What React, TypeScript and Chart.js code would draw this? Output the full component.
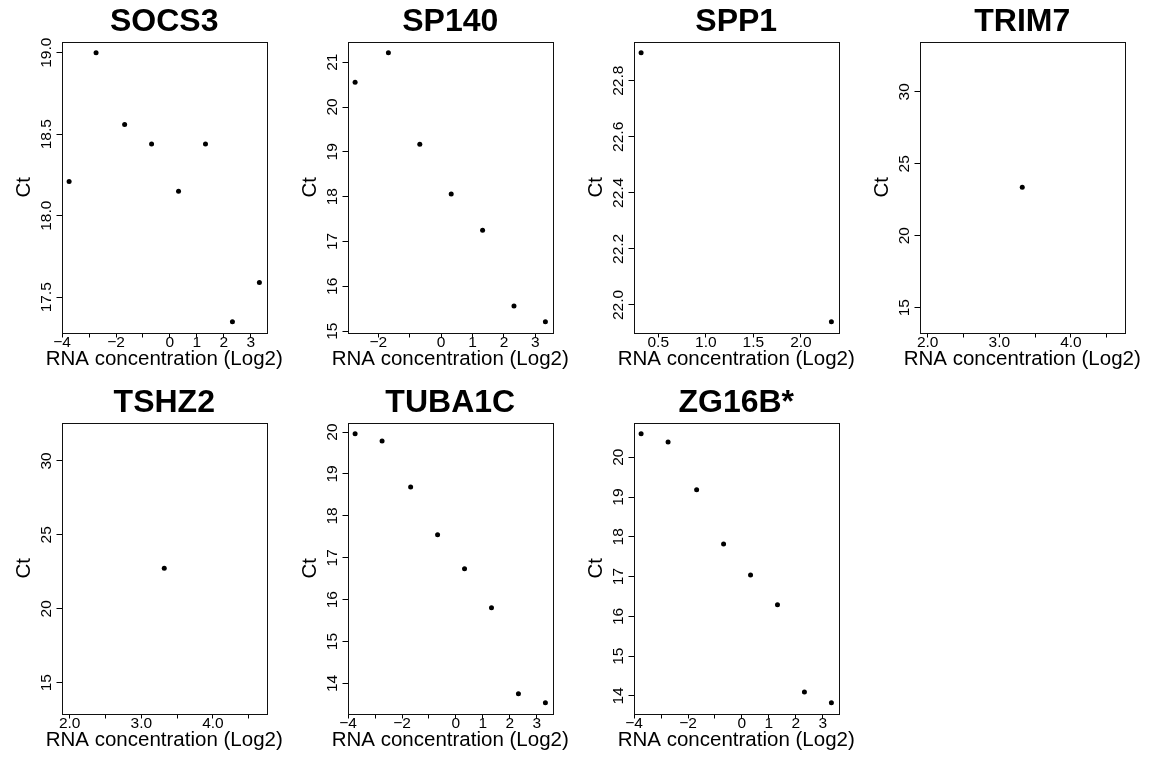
import React, { useEffect, useRef } from 'react';
import { Chart, registerables } from 'chart.js';

Chart.register(...registerables);

const FONT = '"Liberation Sans", Arial, Helvetica, sans-serif';

// log2 RNA concentration of each dilution step
const dilutionLog2 = [-3.74, -2.74, -1.68, -0.68, 0.32, 1.32, 2.32, 3.32];
const sp140Log2 = [-2.74, -1.68, -0.68, 0.32, 1.32, 2.32, 3.32];
const spp1Log2 = [0.32, 2.32];
const trim7Log2 = [3.32];
const tshz2Log2 = [3.32];

// Ct values per gene
const socs3Ct = [18.21, 19.0, 18.56, 18.44, 18.15, 18.44, 17.35, 17.59];
const sp140Ct = [20.55, 21.21, 19.17, 18.06, 17.25, 15.56, 15.21];
const spp1Ct = [22.9, 21.94];
const trim7Ct = [23.37];
const tshz2Ct = [22.74];
const tuba1cCt = [19.96, 19.785, 18.69, 17.55, 16.74, 15.81, 13.755, 13.54];
const zg16bCt = [20.59, 20.38, 19.18, 17.82, 17.04, 16.29, 14.1, 13.83];

// axis ticks and their labels (blank = tick without label)
const wideLog2Ticks = [-4, -3, -2, -1, 0, 1, 2, 3];
const wideLog2Labels = ['\u22124', '', '\u22122', '', '0', '1', '2', '3'];
const sp140Log2Ticks = [-2, -1, 0, 1, 2, 3];
const sp140Log2Labels = ['\u22122', '', '0', '1', '2', '3'];
const spp1Log2Ticks = [0.5, 1.0, 1.5, 2.0];
const spp1Log2Labels = ['0.5', '1.0', '1.5', '2.0'];
const singleLog2Ticks = [2.0, 2.5, 3.0, 3.5, 4.0, 4.5];
const singleLog2Labels = ['2.0', '', '3.0', '', '4.0', ''];

const socs3CtTicks = [17.5, 18.0, 18.5, 19.0];
const socs3CtLabels = ['17.5', '18.0', '18.5', '19.0'];
const sp140CtTicks = [15, 16, 17, 18, 19, 20, 21];
const sp140CtLabels = ['15', '16', '17', '18', '19', '20', '21'];
const spp1CtTicks = [22.0, 22.2, 22.4, 22.6, 22.8];
const spp1CtLabels = ['22.0', '22.2', '22.4', '22.6', '22.8'];
const singleCtTicks = [15, 20, 25, 30];
const singleCtLabels = ['15', '20', '25', '30'];
const lowCtTicks = [14, 15, 16, 17, 18, 19, 20];
const lowCtLabels = ['14', '15', '16', '17', '18', '19', '20'];

const geneNames = ['SOCS3', 'SP140', 'SPP1', 'TRIM7', 'TSHZ2', 'TUBA1C', 'ZG16B*'];

interface PanelSpec {
  name: string;
  x: number[];
  y: number[];
  xTicks: number[];
  xLabels: string[];
  yTicks: number[];
  yLabels: string[];
}

const panels: PanelSpec[] = [
  { name: geneNames[0], x: dilutionLog2, y: socs3Ct, xTicks: wideLog2Ticks, xLabels: wideLog2Labels, yTicks: socs3CtTicks, yLabels: socs3CtLabels },
  { name: geneNames[1], x: sp140Log2, y: sp140Ct, xTicks: sp140Log2Ticks, xLabels: sp140Log2Labels, yTicks: sp140CtTicks, yLabels: sp140CtLabels },
  { name: geneNames[2], x: spp1Log2, y: spp1Ct, xTicks: spp1Log2Ticks, xLabels: spp1Log2Labels, yTicks: spp1CtTicks, yLabels: spp1CtLabels },
  { name: geneNames[3], x: trim7Log2, y: trim7Ct, xTicks: singleLog2Ticks, xLabels: singleLog2Labels, yTicks: singleCtTicks, yLabels: singleCtLabels },
  { name: geneNames[4], x: tshz2Log2, y: tshz2Ct, xTicks: singleLog2Ticks, xLabels: singleLog2Labels, yTicks: singleCtTicks, yLabels: singleCtLabels },
  { name: geneNames[5], x: dilutionLog2, y: tuba1cCt, xTicks: wideLog2Ticks, xLabels: wideLog2Labels, yTicks: lowCtTicks, yLabels: lowCtLabels },
  { name: geneNames[6], x: dilutionLog2, y: zg16bCt, xTicks: wideLog2Ticks, xLabels: wideLog2Labels, yTicks: lowCtTicks, yLabels: lowCtLabels },
];

// R-style axis limits: data range widened by 4% each side
function axisRange(values: number[]): [number, number] {
  let lo = Math.min(...values);
  let hi = Math.max(...values);
  if (lo === hi) {
    const d = Math.abs(lo) * 0.4 || 1;
    lo -= d;
    hi += d;
  }
  const pad = (hi - lo) * 0.04;
  return [lo - pad, hi + pad];
}

const CANVAS_W = 287;
const CANVAS_H = 380;

const framePlugin = {
  id: 'panelFrame',
  afterDraw(chart: any) {
    const { ctx, chartArea } = chart;
    const { left, right, top, bottom } = chartArea;
    const name = chart.options.plugins.panelFrame.title as string;
    const cx = (left + right) / 2;
    const cy = (top + bottom) / 2;
    ctx.save();
    // plot box
    ctx.strokeStyle = '#111';
    ctx.lineWidth = 1;
    ctx.strokeRect(Math.round(left) + 0.5, Math.round(top) + 0.5, Math.round(right - left) - 1, Math.round(bottom - top));
    ctx.fillStyle = '#000';
    // main title
    ctx.font = `bold 32px ${FONT}`;
    ctx.textAlign = 'center';
    ctx.textBaseline = 'alphabetic';
    ctx.fillText(name, cx, 31);
    // x axis title
    ctx.font = `20.5px ${FONT}`;
    ctx.fillText('RNA concentration (Log2)', cx, bottom + 32.5);
    // y axis title
    ctx.save();
    ctx.translate(30, cy);
    ctx.rotate(-Math.PI / 2);
    ctx.fillText('Ct', 0, 0);
    ctx.restore();
    // y tick labels, written sideways as in base R graphics
    const yScale = chart.scales.y;
    ctx.font = `15.5px ${FONT}`;
    yScale.ticks.forEach((t: any) => {
      if (!t.label) return;
      const py = yScale.getPixelForValue(t.value);
      ctx.save();
      ctx.translate(left - 11, py);
      ctx.rotate(-Math.PI / 2);
      ctx.fillText(t.label, 0, 0);
      ctx.restore();
    });
    ctx.restore();
  },
};

function Panel({ spec, left, top }: { spec: PanelSpec; left: number; top: number }) {
  const ref = useRef<HTMLCanvasElement | null>(null);

  useEffect(() => {
    const canvas = ref.current;
    if (!canvas) return;
    const xr = axisRange(spec.x);
    const yr = axisRange(spec.y);
    const tickGrid = {
      drawOnChartArea: false,
      drawTicks: true,
      tickLength: 5,
      color: '#000',
      lineWidth: 1,
    };
    const chart = new Chart(canvas, {
      type: 'scatter',
      data: {
        datasets: [
          {
            data: spec.x.map((x, i) => ({ x, y: spec.y[i] })),
            pointRadius: 2.5,
            pointHoverRadius: 2.5,
            pointBackgroundColor: '#000',
            pointBorderWidth: 0,
            showLine: false,
          },
        ],
      },
      options: {
        responsive: false,
        animation: false,
        events: [],
        layout: { padding: { top: 42, right: 20, left: 0, bottom: 0 } },
        plugins: {
          legend: { display: false },
          tooltip: { enabled: false },
          // @ts-ignore
          panelFrame: { title: spec.name },
        },
        scales: {
          x: {
            type: 'linear',
            position: 'bottom',
            min: xr[0],
            max: xr[1],
            afterBuildTicks: (s: any) => {
              s.ticks = spec.xTicks.map((v) => ({ value: v }));
            },
            afterFit: (s: any) => {
              s.height = 47.5;
            },
            ticks: {
              autoSkip: false,
              maxRotation: 0,
              minRotation: 0,
              padding: -4,
              color: '#000',
              font: { family: FONT, size: 15.5 },
              callback: (_v: any, i: number) => spec.xLabels[i],
            },
            grid: tickGrid,
            border: { display: false },
          },
          y: {
            type: 'linear',
            position: 'left',
            min: yr[0],
            max: yr[1],
            afterBuildTicks: (s: any) => {
              s.ticks = spec.yTicks.map((v) => ({ value: v }));
            },
            afterFit: (s: any) => {
              s.width = 61.5;
            },
            ticks: {
              display: false,
              callback: (_v: any, i: number) => spec.yLabels[i],
            },
            grid: tickGrid,
            border: { display: false },
          },
        },
      } as any,
      plugins: [framePlugin],
    });
    return () => chart.destroy();
  }, [spec]);

  return (
    <canvas
      ref={ref}
      width={CANVAS_W}
      height={CANVAS_H}
      style={{ position: 'absolute', left, top, width: CANVAS_W, height: CANVAS_H, display: 'block' }}
    />
  );
}

export default function App() {
  useEffect(() => {
    document.body.style.overflow = 'hidden';
  }, []);
  return (
    <div style={{ position: 'absolute', left: 0, top: 0, width: 1149, height: 761, background: '#fff', overflow: 'hidden' }}>
      {panels.map((p, i) => (
        <Panel key={p.name} spec={p} left={(i % 4) * 286} top={Math.floor(i / 4) * 381} />
      ))}
    </div>
  );
}
